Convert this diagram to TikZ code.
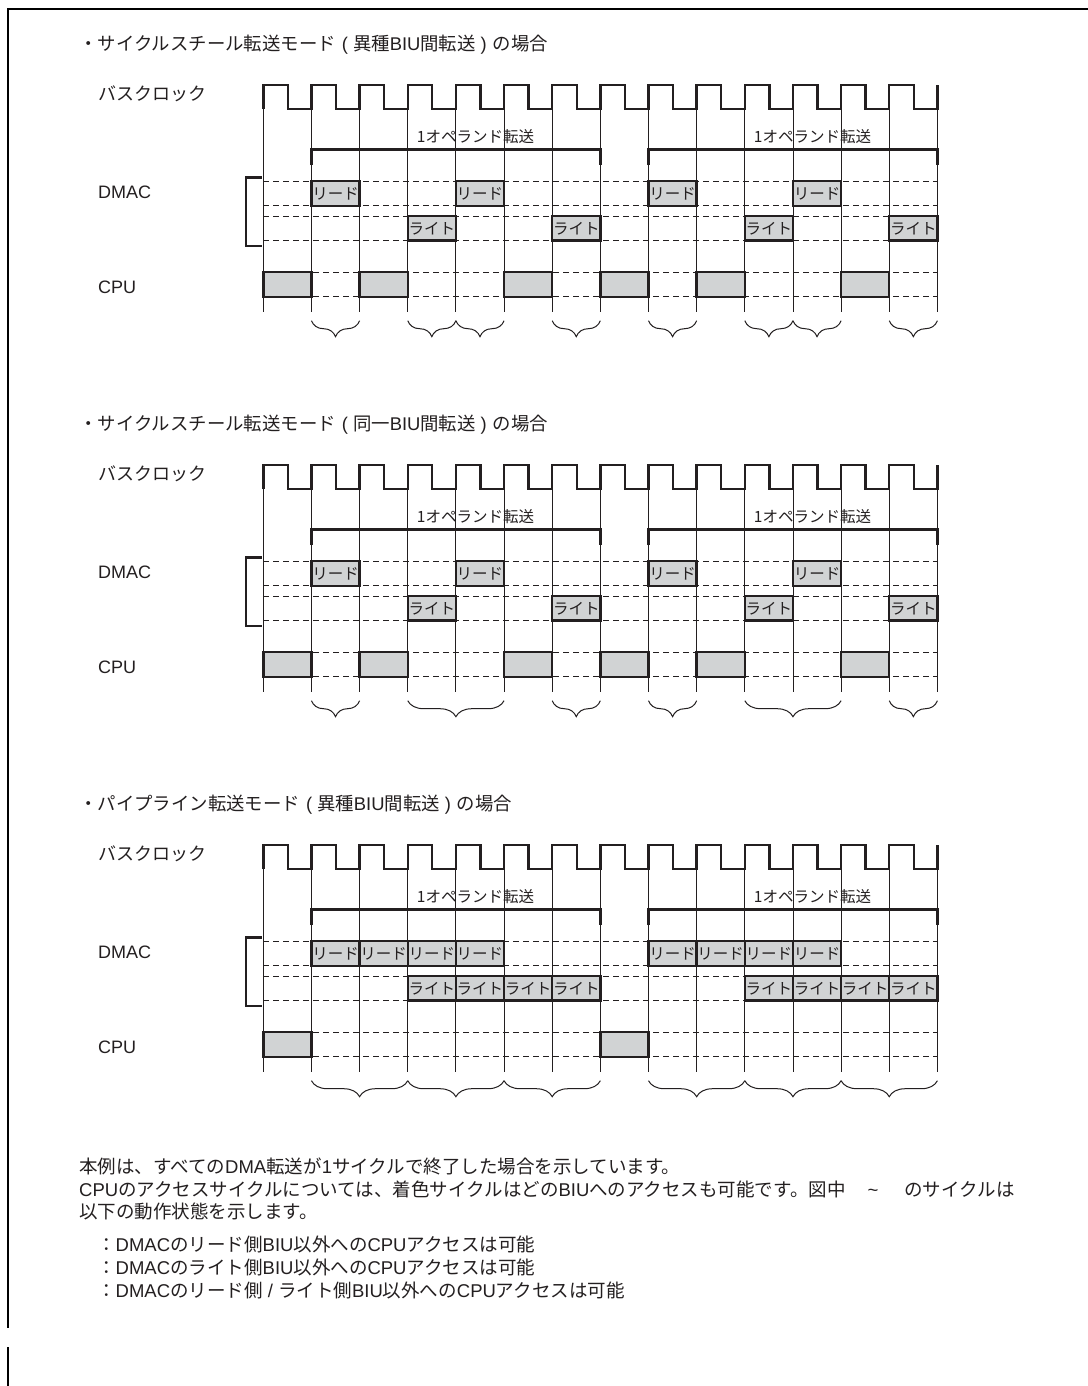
\documentclass[tikz,border=0pt]{standalone}
\usepackage{fontspec}
\setmainfont{Liberation Sans}
\newfontfamily\jp{Noto Sans CJK JP}
\usetikzlibrary{decorations.pathreplacing}
\definecolor{ink}{RGB}{35,31,32}
\definecolor{boxgray}{RGB}{209,211,212}
\newcommand\lt[1]{{\normalfont #1}}
\newcommand\lpar{\lt{\hspace*{6pt}(\hspace*{5pt}}}
\newcommand\rpar{\lt{\hspace*{5pt})\hspace*{6pt}}}
\pgfmathdeclarefunction{gx}{1}{\pgfmathparse{263.3+48.15*#1}}
\tikzset{
  ttl/.style={font=\jp\fontsize{18.4}{20}\selectfont, inner sep=0pt, anchor=west, text=ink},
  lbl/.style={font=\fontsize{18}{20}\selectfont, inner sep=0pt, anchor=west, text=ink},
  optxt/.style={font=\jp\fontsize{15.5}{17}\selectfont, inner sep=0pt, text=ink},
  boxt/.style={font=\jp\fontsize{15.5}{17}\selectfont, inner sep=0pt, text=ink},
  note/.style={font=\jp\fontsize{18.5}{20}\selectfont, inner sep=0pt, anchor=west, text=ink},
  gridl/.style={draw=ink, line width=0.9pt},
  dsh/.style={draw=ink, line width=1pt, dash pattern=on 5.7pt off 4.3pt},
  clk/.style={draw=ink, line width=2.4pt, line join=miter},
  bar/.style={draw=ink, line width=2.4pt, line join=miter},
  bx/.style={draw=ink, fill=boxgray, line width=2.4pt},
  brc/.style={draw=ink, line width=1pt, decorate, decoration={brace, amplitude=16pt, mirror}},
  frame/.style={draw=black, line width=2.2pt},
}
\newcommand\tsect[6]{%
 \begin{scope}[shift={(0,#1)}]
  \node[ttl] (title#1) at (79,45) {#2};
  \node[lbl] (bus#1) at (98,94) {\jp バスクロック};
  \node[lbl] (dmac#1) at (98,192) {DMAC};
  \node[lbl] (cpu#1) at (98,287) {CPU};
  \foreach \i in {0,...,14} \draw[gridl] ({gx(\i)},85) -- ({gx(\i)},311.7);
  \foreach \yy in {181,205.7,216,240.3,272,296.7} \draw[dsh] ({gx(0)},\yy) -- ({gx(14)},\yy);
  \draw[clk] ({gx(0)},109) \foreach \i in {0,...,13} { -- ({gx(\i)},85) -- ({gx(\i)+24.5},85) -- ({gx(\i)+24.5},109) -- ({gx(\i+1)},109) } -- ({gx(14)},85);
  \draw[bar] ({gx(1)},165) -- ({gx(1)},149.3) -- ({gx(7)},149.3) -- ({gx(7)},165);
  \draw[bar] ({gx(8)},165) -- ({gx(8)},149.3) -- ({gx(14)},149.3) -- ({gx(14)},165);
  \node[optxt] (opa#1) at ({gx(1)+164},137) {1オペランド転送};
  \node[optxt] (opb#1) at ({gx(8)+164},137) {1オペランド転送};
  \draw[bar] (261.7,177.3) -- (246,177.3) -- (246,245.7) -- (261.7,245.7);
  \foreach \c in {#3} {\draw[bx] ({gx(\c)},181) rectangle ({gx(\c+1)},205.7);
     \node[boxt] (rd#1-\c) at ({gx(\c)+24.07},193.6) {リード};}
  \foreach \c in {#4} {\draw[bx] ({gx(\c)},216) rectangle ({gx(\c+1)},240.3);
     \node[boxt] (wr#1-\c) at ({gx(\c)+24.07},228.4) {ライト};}
  \foreach \c in {#5} \draw[bx] ({gx(\c)},272) rectangle ({gx(\c+1)},296.7);
  \foreach \a/\b in {#6} \draw[brc] ({gx(\a)},320.7) -- ({gx(\b)},320.7);
 \end{scope}}
\begin{document}
\begin{tikzpicture}[x=1pt,y=-1pt]
\useasboundingbox (0,0) rectangle (1087,1386);
\fill[white] (0,0) rectangle (1087,1386);
\draw[frame] (1088,8.7) -- (8.3,8.7) -- (8.3,1328);
\draw[frame] (8.3,1347) -- (8.3,1387);
\tsect{0}{\jp ・サイクルスチール転送モード\lpar 異種\lt{BIU}間転送\rpar の場合}{1,4,8,11}{3,6,10,13}{0,2,5,7,9,12}{1/2,3/4,4/5,6/7,8/9,10/11,11/12,13/14}
\tsect{380}{\jp ・サイクルスチール転送モード\lpar 同一\lt{BIU}間転送\rpar の場合}{1,4,8,11}{3,6,10,13}{0,2,5,7,9,12}{1/2,3/5,6/7,8/9,10/12,13/14}
\tsect{760}{\jp ・パイプライン転送モード\lpar 異種\lt{BIU}間転送\rpar の場合}{1,2,3,4,8,9,10,11}{3,4,5,6,10,11,12,13}{0,7}{1/3,3/5,5/7,8/10,10/12,12/14}
\node[note] (n1) at (79,1166) {本例は、すべての\lt{DMA}転送が\lt{1}サイクルで終了した場合を示しています。};
\node[note] (n2) at (79,1189) {\lt{CPU}のアクセスサイクルについては、着色サイクルはどの\lt{BIU}へのアクセスも可能です。図中\hspace*{22pt}\lt{\textasciitilde}\hspace*{26pt}のサイクルは};
\node[note] (n3) at (79,1211) {以下の動作状態を示します。};
\node[note] (n4) at (97,1244) {：\lt{DMAC}のリード側\lt{BIU}以外への\lt{CPU}アクセスは可能};
\node[note] (n5) at (97,1267) {：\lt{DMAC}のライト側\lt{BIU}以外への\lt{CPU}アクセスは可能};
\node[note] (n6) at (97,1290) {：\lt{DMAC}のリード側\lt{ / }ライト側\lt{BIU}以外への\lt{CPU}アクセスは可能};
\end{tikzpicture}
\end{document}
